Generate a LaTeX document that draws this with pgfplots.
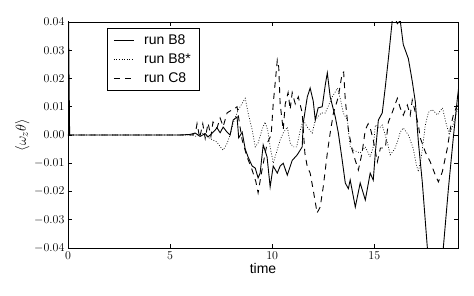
\documentclass[border=0pt]{standalone}
\usepackage{fontspec}
\setmainfont{Liberation Sans}
\usepackage{pgfplots}
\pgfplotsset{compat=1.18}
\begin{document}
\begin{tikzpicture}
\begin{axis}[
  scale only axis, width=390pt, height=226pt,
  xmin=0, xmax=19.1, ymin=-0.04, ymax=0.04,
  xtick={0,5,10,15},
  ytick={-0.04,-0.03,-0.02,-0.01,0,0.01,0.02,0.03,0.04},
  yticklabel style={/pgf/number format/fixed, /pgf/number format/fixed zerofill, /pgf/number format/precision=2},
  scaled y ticks=false,
  tick align=inside,
  major tick length=4pt,
  minor tick num=0,
  tick style={black, line width=0.6pt},
  axis line style={black, line width=0.8pt},
  ticklabel style={font=\fontsize{13}{15}\selectfont},
  xlabel={time}, xlabel style={font=\fontsize{14}{16}\selectfont, yshift=3pt},
  ylabel={$\langle\omega_z\theta\rangle$}, ylabel style={font=\fontsize{15}{17}\selectfont, yshift=-2pt},
  legend style={at={(0.1,0.973)}, anchor=north west, draw=black, line width=0.6pt,
    font=\fontsize{14}{16}\selectfont, inner xsep=6pt, inner ysep=4pt, row sep=4pt,
    /tikz/every odd column/.append style={column sep=8pt}},
  legend cell align=left,
  legend image code/.code={\draw[#1] (0pt,0pt) -- (20pt,0pt);},
]
\addplot[black, line width=0.9pt] coordinates {
(0,0.06) (0.08,0) (5.5,0) (5.98,0.0002) (6.23,0.0007) (6.47,-0.0005) (6.72,0.0005) (6.86,-0.0007) (7.11,0.001) (7.30,0.0025) (7.45,0.0008) (7.60,0.0028) (7.79,0.0010) (7.94,0.0) (8.09,0.0053) (8.28,0.0064) (8.36,-0.001) (8.53,0.001) (8.68,-0.005) (8.82,-0.0078) (9.02,-0.011) (9.17,-0.0117) (9.31,-0.0152) (9.41,-0.0135) (9.56,-0.0035) (9.75,-0.0078) (9.90,-0.0184) (10.05,-0.011) (10.25,-0.0135) (10.39,-0.011) (10.54,-0.010) (10.74,-0.0142) (10.98,-0.009) (11.23,-0.007) (11.47,-0.0042) (11.52,0.0042) (11.72,0.0135) (11.86,0.0166) (12.01,0.012) (12.11,0.0053) (12.25,0.0096) (12.45,0.0100) (12.60,0.0177) (12.70,0.022) (12.84,0.0135) (13.09,0.0064) (13.24,0.0007) (13.43,-0.009) (13.58,-0.017) (13.73,-0.019) (13.82,-0.0159) (14.07,-0.0255) (14.31,-0.017) (14.56,-0.023) (14.80,-0.0135) (14.95,-0.016) (15.05,-0.0064) (15.20,0.0053) (15.39,0.0078) (15.54,0.017) (15.69,0.027) (15.88,0.0405) (16.05,0.0408) (16.13,0.0394) (16.27,0.0405) (16.42,0.032) (16.67,0.027) (16.86,0.019) (17.01,0.0117) (17.16,-0.0025) (17.35,-0.0166) (17.60,-0.04) (18.0,-0.07) (18.38,-0.04) (18.63,-0.019) (18.87,-0.001) (19.07,0.013) (19.17,0.019)
};
\addlegendentry{run B8}
\addplot[black, line width=0.7pt, dash pattern=on 0.8pt off 1.8pt] coordinates {
(0,0) (6.0,0) (6.3,-0.0005) (6.6,0.0005) (6.9,-0.001) (7.1,-0.0018) (7.3,-0.0025) (7.45,-0.0042) (7.6,-0.0053) (7.79,-0.003) (7.94,0.0) (8.09,0.0042) (8.33,0.0088) (8.68,0.013) (8.82,0.0078) (9.02,0.0018) (9.17,-0.0042) (9.31,-0.0028) (9.5,0.0018) (9.65,0.0046) (9.78,0.0018) (9.9,-0.0042) (10.05,-0.01) (10.2,-0.0064) (10.39,-0.0018) (10.54,0.0007) (10.74,0.0028) (10.88,-0.0028) (11.03,-0.0042) (11.2,-0.0042) (11.38,0.0018) (11.52,0.0053) (11.72,0.0028) (11.96,0.0007) (12.11,0.0053) (12.4,0.0078) (12.6,0.0078) (12.94,0.0135) (13.2,0.0166) (13.35,0.0124) (13.48,0.0078) (13.68,0.0053) (13.82,-0.0042) (13.97,-0.0053) (14.31,-0.0064) (14.56,-0.0042) (14.8,-0.0078) (14.95,-0.0042) (15.05,0.0035) (15.25,0.0025) (15.39,0.0035) (15.64,-0.0025) (15.78,-0.007) (16.0,-0.005) (16.13,-0.0025) (16.27,0.001) (16.42,0.0025) (16.67,0.0) (16.9,-0.0046) (17.06,-0.0106) (17.16,-0.013) (17.3,-0.008) (17.5,0.0035) (17.65,0.008) (17.84,0.009) (18.09,0.0071) (18.34,0.0096) (18.5,0.0046) (18.68,0.0) (18.85,0.0035) (19.1,0.0096)
};
\addlegendentry{run B8*}
\addplot[black, line width=0.9pt, dash pattern=on 6pt off 5pt] coordinates {
(0,0) (6.1,0) (6.25,0.001) (6.32,0.004) (6.45,-0.001) (6.6,0.004) (6.72,-0.0012) (6.86,0.0042) (7.0,-0.0005) (7.1,0.0046) (7.3,0.0025) (7.45,0.006) (7.6,0.003) (7.79,0.0078) (7.94,0.0085) (8.09,0.009) (8.28,0.010) (8.4,0.004) (8.53,-0.0018) (8.77,-0.0078) (9.0,-0.012) (9.2,-0.0165) (9.31,-0.0205) (9.5,-0.0124) (9.75,-0.003) (9.95,0.0) (10.05,0.011) (10.25,0.0265) (10.32,0.024) (10.39,0.011) (10.54,0.0018) (10.64,0.011) (10.78,0.015) (10.88,0.009) (10.98,0.015) (11.13,0.011) (11.28,0.0135) (11.47,0.0078) (11.6,-0.0064) (11.72,-0.0113) (11.86,-0.0135) (12.01,-0.0195) (12.2,-0.0276) (12.35,-0.0255) (12.5,-0.0184) (12.7,-0.0064) (12.84,0.0007) (13.0,0.0078) (13.24,0.0135) (13.43,0.022) (13.5,0.0223) (13.58,0.0124) (13.73,0.0018) (13.92,-0.0053) (14.07,-0.009) (14.22,-0.0124) (14.4,-0.0064) (14.56,0.0018) (14.7,0.004) (14.8,0.0025) (14.95,-0.0018) (15.15,-0.0095) (15.3,-0.0046) (15.54,-0.0046) (15.69,0.0046) (15.88,0.008) (16.13,0.013) (16.27,0.0096) (16.42,0.007) (16.62,0.0106) (16.76,0.007) (16.86,0.0124) (17.01,0.008) (17.16,0.0035) (17.25,-0.001) (17.5,-0.006) (17.74,-0.0095) (17.99,-0.0142) (18.14,-0.0166) (18.33,-0.0131) (18.58,-0.0046) (18.73,0.0025) (18.87,0.007) (19.12,0.0117)
};
\addlegendentry{run C8}
\end{axis}
\pgfresetboundingbox
\path ([xshift=-68pt,yshift=-48pt]current axis.south west) rectangle ([xshift=16pt,yshift=22pt]current axis.north east);
\end{tikzpicture}
\end{document}
